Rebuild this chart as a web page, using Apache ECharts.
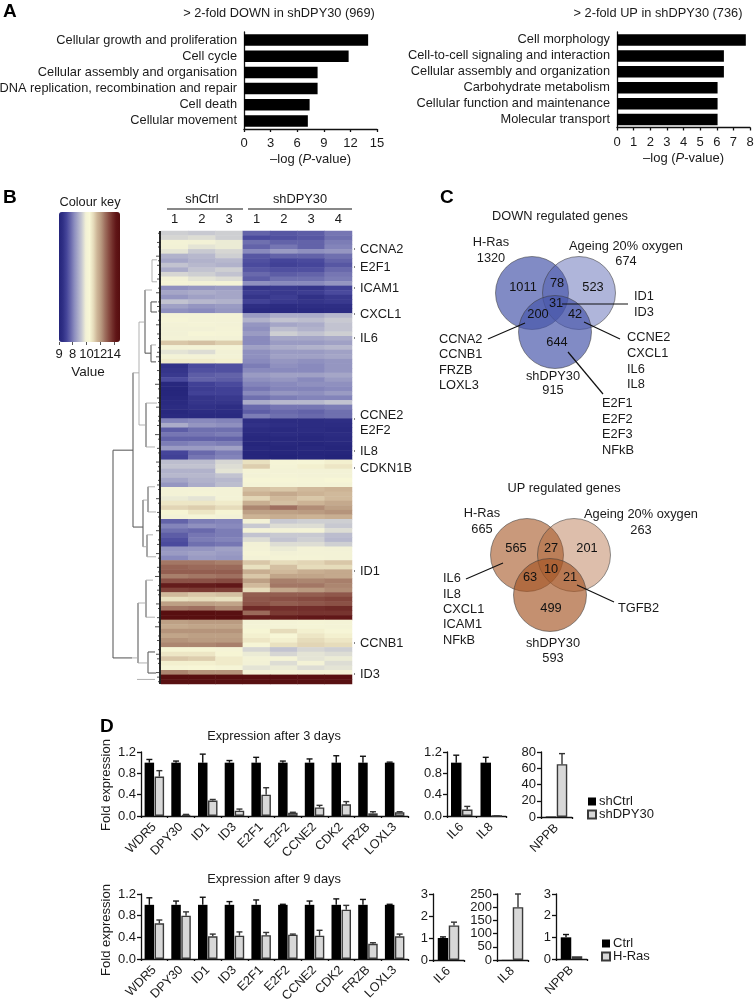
<!DOCTYPE html>
<html><head><meta charset="utf-8">
<style>html,body{margin:0;padding:0;background:#fff}#c{width:755px;height:1002px}</style>
<script src="https://cdn.jsdelivr.net/npm/echarts@6/dist/echarts.min.js"></script>
</head><body><div id="c"></div>
<script>
// ---------- DATA ----------
const downTerms=["Cellular growth and proliferation","Cell cycle","Cellular assembly and organisation","DNA replication, recombination and repair","Cell death","Cellular movement"];
const downVals=[14,11.8,8.3,8.3,7.4,7.2];
const upTerms=["Cell morphology","Cell-to-cell signaling and interaction","Cellular assembly and organization","Carbohydrate metabolism","Cellular function and maintenance","Molecular transport"];
const upVals=[7.75,6.43,6.43,6.05,6.05,6.05];
const heatCols=["1","2","3","1","2","3","4"];
const heatRows=[
[9.4,9.3,9.4,7.6,7.4,7.5,7.9],[9.5,9.6,9.4,7.2,7.3,7.4,7.8],[10,9.9,9.8,7.8,7.6,7.6,8],[9.9,9.7,9.8,7.6,7.9,7.6,8.1],
[9.7,9.3,9.5,8.2,8.5,8.3,8.4],[8.9,9,9.4,7.4,7.6,7.6,7.8],[8.7,8.9,9,7.3,7.1,7.2,7.6],[9.2,9,8.9,7.2,7,7.1,7.4],
[8.8,9.2,9.4,7.4,7.3,7.3,7.7],[9.5,9.4,9.2,7.7,7.5,7.6,7.9],[9.9,9.7,9.6,7.5,7.8,7.8,8],[10.1,10,10.1,8.3,8.2,8.2,8.4],
[8.3,8.4,8.5,6.7,6.8,6.7,7],[8.7,8.8,8.7,6.9,6.8,6.9,7.2],[8.4,8.6,8.7,6.7,6.9,6.6,6.8],[9.2,9,8.9,7,6.8,6.7,6.8],[8.6,8.4,8.5,6.5,6.4,6.5,6.5],[8.3,8.2,8.4,6.3,6.3,6.3,6.4],
[10,10,10,8.5,8.8,8.8,9],[10.2,10,10,8.9,9.2,9.1,9.3],[10,10.1,10,8.4,8.7,8.8,9.2],[9.9,9.9,10.1,8.3,9.1,8.9,9.2],[9.9,10.3,10.2,8.5,9.4,9.2,9.4],[10,10,10,8.2,8.7,8.7,8.8],
[11.3,11.4,11.2,8.2,8.5,8.5,8.6],[10,10.1,10.1,8.6,8.8,8.9,9],[9.7,9.6,9.9,8.3,8.5,8.5,8.6],[10,10,10,8.3,8.6,8.6,8.7],[10.7,10.7,10.6,8.2,8.4,8.3,8.4],
[6.6,7.2,7.3,8,8.3,8.2,8.4],[6.7,7.3,7.3,8.2,8.2,8.2,8.4],[6.8,7.5,7.6,8.5,8.6,8.6,8.7],[7.2,7.6,7.5,8.3,8.4,8.2,8.5],[6.2,7,7.2,8.1,8.2,8.3,8.3],[6.1,6.9,7,7.9,8.1,8.1,8.2],
[6.1,7,7,8.2,8.4,8.3,8.5],[6.2,6.7,6.8,7.8,8,8.1,8.1],[6.3,6.7,6.7,8.8,9,9,9.2],[6.4,6.6,6.5,7.7,7.9,7.9,8],[6.2,6.4,6.4,7.5,7.7,7.6,7.8],[6.3,6.3,6.3,8,7.8,7.7,7.8],
[8.1,8.2,8.1,6.5,6.4,6.4,6.5],[8.8,8.4,8.3,6.6,6.5,6.4,6.4],[7.5,7.8,7.8,6.4,6.3,6.4,6.3],[7.9,7.9,8,6.3,6.4,6.3,6.4],[7.6,7.6,7.6,6.2,6.2,6.2,6.3],[8,8.1,8,6.1,6.2,6.1,6.2],[8.5,8.5,8.6,6.2,6.1,6.2,6.1],[7.1,7.7,8,6.1,6.1,6.1,6.1],[7,7.9,8.1,6.1,6,6.1,6],
[9.1,9.1,9.5,10.9,10.2,10.3,10.6],[9.2,9.2,9.6,11.2,10.1,10.6,10.8],[8.9,8.9,9.7,10.1,10,10,10],[9,9,9.2,10,10.1,10,10],[8.7,8.9,9,10.3,10.3,10.2,10.4],[8.4,8.8,9.1,10.1,10.1,10.1,10.1],
[10,10,10,11.4,11.3,11.5,11.6],[10,10.1,10,11.6,11.8,11.6,11.5],[9.8,9.7,10,11.1,11.5,11.3,11.5],[10.8,10.8,10.7,11.7,11.4,11.6,11.8],[11.1,11.2,11,12.4,12.7,12.3,12],[10.5,10.8,10.5,12,12,12.1,12.2],[10,10.2,10,11.6,11.7,11.6,11.7],
[7.6,8,8.1,9.9,9.3,9.4,9.4],[8.1,8.3,8.2,9.3,9.6,9.6,9.3],[7.8,7.7,8,10,9.9,10,9.6],[7.5,7.9,8,9.2,9.3,9.3,9.1],[7.3,8,8.1,9.6,9.2,9.4,9],[7.2,7.8,7.9,9.9,9.6,9.6,9.4],[8.4,8.4,8.6,10,9.8,10,9.9],[8.5,8.6,8.5,10.2,9.9,10,10],[8.2,8.5,8.4,10,10.1,10.1,10],
[12.6,12.6,12.5,11.3,11,11.1,11.3],[12.9,12.8,12.8,10.9,11.4,11,11],[13,13,13,11.7,11.5,11.7,11.8],[12.5,12.6,12.7,11.3,11.9,11.9,11.8],[13.2,13.2,13.3,12,12.5,12.4,12.5],[14.2,14.2,14.3,11.5,12.6,12.6,12.4],[13.5,13.6,13.5,11,11.8,12.1,12.3],
[11.5,11.3,11.4,13,13,13,13.1],[10.9,11,10.9,13.1,13.2,13.3,13.4],[12,12,11.9,13.2,13,13.1,13.2],[12.6,12.7,12.4,13.9,13.8,13.8,13.9],
[14.8,14.8,14.7,12.8,13.6,13.7,13.7],[14.8,14.8,14.8,14.2,14.2,14.3,14.3],
[12,12.1,12.1,10,10.1,10.2,10.1],[11.8,11.9,11.9,10.1,10.1,10.2,10.1],[12.2,12.2,12.2,10.5,11,10.6,10.3],[11.9,12,12,10.6,10.4,10.8,10.6],[12.2,12.1,12.1,10.8,10.6,11,10.8],[12.4,12.4,12.5,10.3,10.9,11.1,11],
[10.5,10.5,10.2,9.5,9.2,9.5,9.4],[10.8,10.8,10.5,9.8,9.5,9.7,9.6],[11.3,11.2,10.7,10,10.1,9.7,9.8],[10.6,10.6,10.7,9.9,9.6,10,9.6],[10.3,10.4,10.2,9.7,9.8,9.6,9.7],[12.4,12.2,12.2,10,10.1,10,10],
[14.8,14.8,14.8,14.8,14.8,14.8,14.8],[14.7,14.7,14.7,14.7,14.7,14.7,14.7]];
const keyColours=["#24247a","#2f2f85","#45459a","#6767ab","#8b8cbe","#aaabc9","#cacbd2","#f2f1d6","#f8f7d6","#e6dcbb","#cdb597","#b99a80","#a07261","#8a4f44","#732f2b","#5f1516","#560e0f"];
const dendroDark=[[48,47.9,48,93.3],[48,47.9,28,47.9],[48,93.3,29,93.3],[28,31,28,64.7],[28,64.7,18,64.7],[16,12.9,16,26.7],[16,26.7,10,26.7],[10,15.5,10,17.7],[10,15.5,4,15.5],[10,17.7,4,17.7],[10,24.9,10,28.6],[10,28.6,5,28.6],[15,37.6,15,47.2],[18,58.8,18,69],[13,55.9,13,61.4],[14,66.4,14,71.2],[23,81.3,23,94.4],[15,76.3,15,84.4],[13,92,13,96.6],[13,92,6,92],[13,96.6,5,96.6]];
const dendroLight=[[28,31,22,31],[22,19.9,22,42.4],[22,19.9,16,19.9],[22,42.4,15,42.4],[16,12.9,9,12.9],[9,6.3,9,11.1],[9,6.3,4,6.3],[9,11.1,4,11.1],[10,24.9,5,24.9],[15,37.6,4,37.6],[15,47.2,6,47.2],[18,58.8,13,58.8],[18,69,14,69],[13,55.9,6,55.9],[13,61.4,5,61.4],[14,66.4,8,66.4],[14,71.2,5,71.2],[29,93.3,23,93.3],[23,81.3,15,81.3],[23,94.4,13,94.4],[15,76.3,8,76.3],[15,84.4,6,84.4],[24,98,6,98]];
const leafSpine=[[1,0,1,99]];
const leafLens=[3,2,4,3,2,5,3,4,2,3,4,2,3,5,2,3,4,3,2,3,5,2,4,3,2,3,4,5,3,2,4,2,3,6,3,2,4,3,5,2,3,3,4,2,6,3,2,4,3,2,5,3,4,2,3,4,3,2,5,3,2,4,3,2,3,5,2,3,4,2,5,3,2,4,3,6,2,3,4,3,2,5,3,2,4,3,6,2,3,4,2,3,5,4,3,2,5,4,3];
const days3Cats=["WDR5","DPY30","ID1","ID3","E2F1","E2F2","CCNE2","CDK2","FRZB","LOXL3"];
const d3Ctrl=[1,1,1,1,1,1,1,1,1,1];
const d3CtrlTop=[1.06,1.03,1.16,1.04,1.1,1.03,1.07,1.13,1.12,1.01];
const d3Sh=[.74,.02,.29,.1,.4,.06,.16,.22,.05,.07];
const d3ShTop=[.85,.03,.31,.13,.53,.07,.2,.27,.08,.08];
const d3ILCats=["IL6","IL8"],d3ILCtrl=[1,1],d3ILCtrlTop=[1.14,1.1],d3ILSh=[.12,0],d3ILShTop=[.18,0];
const nppbCats=["NPPB"],d3NCtrl=[.6],d3NSh=[65],d3NShTop=[78];
const d9Ctrl=[1,1,1,1,1,1,1,1,1,1];
const d9CtrlTop=[1.13,1.07,1.14,1.06,1.09,1.01,1.07,1.11,1.1,1.01];
const d9Ras=[.66,.8,.42,.43,.44,.45,.43,.91,.28,.42];
const d9RasTop=[.72,.87,.46,.5,.49,.46,.53,.99,.3,.46];
const d9IL6Cats=["IL6"],d9IL6=[1],d9IL6Top=[1.05],d9IL6Ras=[1.57],d9IL6RasTop=[1.72];
const d9IL8Cats=["IL8"],d9IL8=[.5],d9IL8Ras=[200],d9IL8RasTop=[250];
const d9NCtrl=[1],d9NCtrlTop=[1.13],d9NRas=[.13];
const vennDownCounts=["1011","78","523","31","200","42","644"];
const vennUpCounts=["565","27","201","10","63","21","499"];
// ---------- LAYOUT ----------
const FF='"Liberation Sans",Arial,sans-serif', INK='#1a1a1a', FS=12.8;
const vennDownCountPos=[[523,287],[557,283],[593,287],[556,303],[538,314],[575,314],[557,342]];
const vennUpCountPos=[[516,548],[551,548],[587,548],[551,569],[530,577],[570,577],[551,608]];
const vennDownCircles=[[532,293,.68],[579,293,.43],[555,332,.68]];
const vennUpCircles=[[527,555,.6],[574,555,.38],[550,595,.65]];
const leaders=[[562,304,628,304],[488,339,525,323],[584,322,620,339],[568,352,603,394],[466,579,503,563],[577,585,614,602],[167,209,243,209],[248,209,352,209],[354,249,355,249],[354,267,355,267],[354,288,355,288],[354,314,355,314],[354,338,355,338],[354,419,355,419],[354,451,355,451],[354,468,355,468],[354,571,355,571],[354,643,355,643],[354,674,355,674]];
const T=[]; // annotation text
function txt(x,y,s,o,rot){const e={type:'text',x:x,y:y,silent:true,style:Object.assign({text:s,fontFamily:FF,fontSize:FS,fill:INK,align:'left',verticalAlign:'middle'},o||{})};if(rot)e.rotation=rot;T.push(e);}
const C={align:'center'};
const L={fontSize:19,fontWeight:'bold',fill:'#000'};
txt(3,12,'A',L);txt(3,198,'B',L);txt(440,198,'C',L);txt(100,727,'D',L);
txt(279,13,'> 2-fold DOWN in shDPY30 (969)',C);txt(658,13,'> 2-fold UP in shDPY30 (736)',C);
txt(90,202,'Colour key',C);txt(88,372,'Value',{align:'center',fontSize:13.5});
txt(202,199,'shCtrl',C);txt(300,199,'shDPY30',C);
[['CCNA2',249],['E2F1',267],['ICAM1',288],['CXCL1',314],['IL6',338],['CCNE2',415],['E2F2',430],['IL8',451],['CDKN1B',468],['ID1',571],['CCNB1',643],['ID3',674]].forEach(a=>txt(360,a[1],a[0]));
txt(560,216,'DOWN regulated genes',C);txt(491,242,'H-Ras',C);txt(491,258,'1320',C);txt(626,246,'Ageing 20% oxygen',C);txt(626,261,'674',C);
txt(634,296,'ID1');txt(634,312,'ID3');
['CCNA2','CCNB1','FRZB','LOXL3'].forEach((s,i)=>txt(439,[339,354,370,385][i],s));
['CCNE2','CXCL1','IL6','IL8'].forEach((s,i)=>txt(627,[337,353,369,384][i],s));
txt(553,376,'shDPY30',C);txt(553,390,'915',C);
['E2F1','E2F2','E2F3','NFkB'].forEach((s,i)=>txt(602,[403,419,434,450][i],s));
txt(564,488,'UP regulated genes',C);txt(482,513,'H-Ras',C);txt(482,529,'665',C);txt(641,514,'Ageing 20% oxygen',C);txt(641,530,'263',C);
['IL6','IL8','CXCL1','ICAM1','NFkB'].forEach((s,i)=>txt(443,[578,594,609,624,640][i],s));
txt(618,608,'TGFB2');txt(553,643,'shDPY30',C);txt(553,658,'593',C);
txt(274,736,'Expression after 3 days',C);txt(274,879,'Expression after 9 days',C);
txt(106,785,'Fold expression',{align:'center',fontSize:13},Math.PI/2);
txt(106,930,'Fold expression',{align:'center',fontSize:13},Math.PI/2);

const grids=[],xA=[],yA=[],S=[];
function addGrid(l,t,w,h){grids.push({left:l,top:t,width:w,height:h,containLabel:false,outerBoundsMode:'none'});return grids.length-1;}
const lineS={lineStyle:{color:'#111',width:1.3}};
const P=addGrid(0,0,755,1002);
xA.push({gridIndex:P,type:'value',min:0,max:755,show:false});
yA.push({gridIndex:P,type:'value',min:0,max:1002,inverse:true,show:false});
function segSeries(data,gi,color,width,z){S.push({type:'custom',coordinateSystem:'cartesian2d',xAxisIndex:gi,yAxisIndex:gi,z:z||3,silent:true,
  data:data,encode:{x:[0,2],y:[1,3]},
  renderItem:(p,api)=>{const a=api.coord([api.value(0),api.value(1)]),b=api.coord([api.value(2),api.value(3)]);
    return{type:'line',shape:{x1:a[0],y1:a[1],x2:b[0],y2:b[1]},style:{stroke:color,lineWidth:width}};}});}
function hbar(gi,terms,vals,top,h,left,w,max,iv){
  addGrid(left,top,w,h);
  xA.push({gridIndex:gi,type:'value',min:0,max:max,interval:iv,splitLine:{show:false},axisLine:{show:true,onZero:false,...lineS},axisTick:{show:true,length:3,...lineS},
    axisLabel:{color:INK,fontFamily:FF,fontSize:13,margin:8},name:'{a|–log (}{i|P}{a|-value)}',nameLocation:'middle',nameGap:24,
    nameTextStyle:{rich:{a:{fontFamily:FF,fontSize:13,color:INK},i:{fontFamily:FF,fontSize:13,color:INK,fontStyle:'italic'}}}});
  yA.push({gridIndex:gi,type:'category',data:terms,inverse:true,axisLine:{show:true,...lineS},axisTick:{show:false},axisLabel:{color:INK,fontFamily:FF,fontSize:FS,margin:7,interval:0}});
  S.push({type:'bar',xAxisIndex:gi,yAxisIndex:gi,data:vals,barWidth:11.5,itemStyle:{color:'#000'},silent:true});
}
hbar(1,downTerms,downVals,32,97,244,133,15,3);
hbar(2,upTerms,upVals,32,95.5,617,133,8,1);
// heatmap
const H=addGrid(161,231,191,453);
xA.push({gridIndex:H,type:'category',data:heatCols.map(c=>({value:c})),position:'top',axisLine:{show:false},axisTick:{show:false},splitLine:{show:false},axisLabel:{color:INK,fontFamily:FF,fontSize:13,margin:5,interval:0}});
yA.push({gridIndex:H,type:'category',data:heatRows.map((r,i)=>i),inverse:true,show:false});
const heatData=[];heatRows.forEach((r,ri)=>r.forEach((v,ci)=>heatData.push([ci,ri,v])));
const heatSeriesIndex=S.length;
S.push({type:'heatmap',xAxisIndex:H,yAxisIndex:H,data:heatData,silent:true,progressive:0,itemStyle:{borderWidth:0}});
// dendrogram
const D=addGrid(113,231,48,453);
xA.push({gridIndex:D,type:'value',min:0,max:48,inverse:true,show:false});
yA.push({gridIndex:D,type:'value',min:0,max:99,inverse:true,show:false});
segSeries(dendroDark,D,'#5f5f5f',1.1);
segSeries(dendroLight,D,'#a8a8a8',.9);
segSeries(leafSpine,D,'#111',1.8);
segSeries(leafLens.map((l,i)=>[l,i+.5,0,i+.5]),D,'#222',.8);
// colour key axis
const K=addGrid(59,212,61,130);
xA.push({gridIndex:K,type:'value',min:6,max:14.9,interval:2,splitLine:{show:false},axisLine:{show:false},axisTick:{show:true,length:3,lineStyle:{color:'#555'}},
  axisLabel:{color:INK,fontFamily:FF,fontSize:13,margin:6,showMaxLabel:false,formatter:v=>({6:'9',8:'8',10:'10',12:'12',14:'14'})[v]||''}});
yA.push({gridIndex:K,type:'value',show:false,min:0,max:1});
// venn
function venn(circles,rgb,counts,pos){
  S.push({type:'scatter',xAxisIndex:P,yAxisIndex:P,silent:true,z:2,symbolSize:73,
    data:circles.map(c=>({value:[c[0],c[1]],itemStyle:{color:`rgba(${rgb},${c[2]})`,borderColor:'rgba(60,60,60,.55)',borderWidth:1,opacity:1}}))});
  S.push({type:'scatter',xAxisIndex:P,yAxisIndex:P,silent:true,z:6,symbolSize:1,itemStyle:{color:'rgba(0,0,0,0)',opacity:1},
    data:counts.map((c,i)=>({value:pos[i],name:c})),
    label:{show:true,position:'inside',formatter:q=>q.name,color:'#111',opacity:1,fontFamily:FF,fontSize:FS}});
}
venn(vennDownCircles,'70,84,170',vennDownCounts,vennDownCountPos);
venn(vennUpCircles,'165,85,35',vennUpCounts,vennUpCountPos);
segSeries(leaders,P,'#111',1.2,5);
// panel D
function errSeries(gi,tops,vals,off,color){S.push({type:'custom',coordinateSystem:'cartesian2d',xAxisIndex:gi,yAxisIndex:gi,z:4,silent:true,
  data:tops.map((t,i)=>[i,vals[i],t]),
  renderItem:(p,api)=>{const a=api.coord([api.value(0),api.value(1)]),b=api.coord([api.value(0),api.value(2)]);const x=a[0]+off;
    return{type:'group',children:[{type:'line',shape:{x1:x,y1:a[1],x2:x,y2:b[1]},style:{stroke:color,lineWidth:1.4}},{type:'line',shape:{x1:x-3,y1:b[1],x2:x+3,y2:b[1]},style:{stroke:color,lineWidth:1.4}}]};}});}
function panel(l,t,w,h,cats,ymax,iv,fmt,nA,nB,a,aT,b,bT,bw,off){
  const g=addGrid(l,t,w,h);
  xA.push({gridIndex:g,type:'category',data:cats,axisLine:{show:true,...lineS},axisTick:{show:true,length:2,...lineS},splitLine:{show:false},
    axisLabel:{rotate:45,color:INK,fontFamily:FF,fontSize:12.6,margin:9,interval:0}});
  yA.push({gridIndex:g,type:'value',min:0,max:ymax,interval:iv,splitLine:{show:false},axisLine:{show:true,...lineS},axisTick:{show:true,length:4,...lineS},
    axisLabel:{color:INK,fontFamily:FF,fontSize:13,margin:5,formatter:fmt}});
  S.push({type:'bar',name:nA,xAxisIndex:g,yAxisIndex:g,data:a,barWidth:bw,barGap:((2*off-bw)/bw*100)+'%',itemStyle:{color:'#000'},silent:true});
  S.push({type:'bar',name:nB,xAxisIndex:g,yAxisIndex:g,data:b,barWidth:bw,itemStyle:{color:'#d8d8d8',borderColor:'#3a3a3a',borderWidth:1.4},silent:true});
  if(aT)errSeries(g,aT,a,-off,'#111');
  if(bT)errSeries(g,bT,b,off,'#333');
}
const f1=v=>v.toFixed(1);const fi=v=>''+v;
panel(141,752,267,64,days3Cats,1.2,.4,f1,'shCtrl','shDPY30',d3Ctrl,d3CtrlTop,d3Sh,d3ShTop,9.5,5);
panel(447,752,59,64,d3ILCats,1.2,.4,f1,'shCtrl','shDPY30',d3ILCtrl,d3ILCtrlTop,d3ILSh,d3ILShTop,10.5,5.5);
panel(541,752,31,65,nppbCats,80,20,fi,'shCtrl','shDPY30',d3NCtrl,null,d3NSh,d3NShTop,10.5,5.5);
panel(141,894,267,65,days3Cats,1.2,.4,f1,'Ctrl','H-Ras',d9Ctrl,d9CtrlTop,d9Ras,d9RasTop,9.5,5);
panel(433,894,31,66,d9IL6Cats,3,1,fi,'Ctrl','H-Ras',d9IL6,d9IL6Top,d9IL6Ras,d9IL6RasTop,10.5,5.5);
panel(497,894,31,66,d9IL8Cats,250,50,fi,'Ctrl','H-Ras',d9IL8,null,d9IL8Ras,d9IL8RasTop,10.5,5.5);
panel(556,894,31,65,nppbCats,3,1,fi,'Ctrl','H-Ras',d9NCtrl,d9NCtrlTop,d9NRas,null,10.5,5.5);

const chart=echarts.init(document.getElementById('c'),null,{renderer:'canvas'});
const legendStyle={orient:'vertical',padding:0,itemWidth:8,itemHeight:8,itemGap:0,icon:'rect',textStyle:{color:INK,fontFamily:FF,fontSize:13,padding:[0,0,0,-2]},selectedMode:false};
chart.setOption({animation:false,backgroundColor:'#fff',textStyle:{fontFamily:FF},
  grid:grids,xAxis:xA,yAxis:yA,series:S,graphic:{elements:T},tooltip:{show:false},
  legend:[
   {...legendStyle,data:['shCtrl','shDPY30'],left:587,top:795},
   {...legendStyle,data:['Ctrl','H-Ras'],left:601,top:937}],
  visualMap:{type:'continuous',seriesIndex:heatSeriesIndex,min:6,max:14.9,orient:'horizontal',left:59,top:212,padding:0,itemWidth:130,itemHeight:61,calculable:false,hoverLink:false,realtime:false,inRange:{color:keyColours}}
});
</script></body></html>
